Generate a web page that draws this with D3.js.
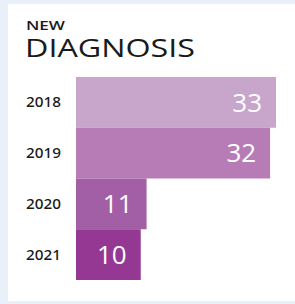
<!DOCTYPE html>
<html>
<head>
<meta charset="utf-8">
<script src="https://cdn.jsdelivr.net/npm/d3@7"></script>
<style>
  html, body { margin: 0; padding: 0; background: #e9f0f9; }
  svg { display: block; }
</style>
</head>
<body>
<script>
const years = ["2018", "2019", "2020", "2021"];
const values = [33, 32, 11, 10];
const colors = ["#c8a5cb", "#b77cb5", "#a35fa5", "#943894"];

const width = 295, height = 304;

const svg = d3.select("body").append("svg")
    .attr("width", width)
    .attr("height", height);

// white card
svg.append("rect")
    .attr("x", 8).attr("y", 4)
    .attr("width", width - 8).attr("height", 297)
    .attr("fill", "#ffffff");

svg.append("text")
    .attr("x", 26).attr("y", 30)
    .attr("textLength", 39)
    .attr("lengthAdjust", "spacingAndGlyphs")
    .style("font", "600 12.5px 'Open Sans', sans-serif")
    .attr("fill", "#1a1a1a")
    .text("NEW");

svg.append("text")
    .attr("x", 25).attr("y", 57)
    .attr("textLength", 170)
    .attr("lengthAdjust", "spacingAndGlyphs")
    .style("font", "400 25px 'Open Sans', sans-serif")
    .attr("fill", "#1a1a1a")
    .text("DIAGNOSIS");

const data = years.map((y, i) => ({year: y, value: values[i], color: colors[i]}));

// bars start a little left of the value zero, as in the original graphic
const x = d3.scaleLinear().domain([-1, 33]).range([76, 276]);
const y = d3.scaleBand().domain(years).range([77, 280]).padding(0);

svg.append("g").selectAll("rect")
    .data(data)
    .join("rect")
    .attr("x", x.range()[0])
    .attr("y", d => y(d.year))
    .attr("width", d => x(d.value) - x.range()[0])
    .attr("height", y.bandwidth())
    .attr("fill", d => d.color);

svg.append("g").selectAll("text")
    .data(data)
    .join("text")
    .attr("x", 26)
    .attr("y", d => y(d.year) + y.bandwidth() / 2)
    .attr("dy", "0.36em")
    .attr("textLength", 35)
    .attr("lengthAdjust", "spacingAndGlyphs")
    .style("font", "500 14px 'Noto Sans', sans-serif")
    .attr("fill", "#1a1a1a")
    .text(d => d.year);

svg.append("g").selectAll("text")
    .data(data)
    .join("text")
    .attr("x", d => x(d.value) - 14)
    .attr("y", d => y(d.year) + y.bandwidth() / 2)
    .attr("dy", "0.36em")
    .attr("text-anchor", "end")
    .style("font", "400 26px 'Open Sans', sans-serif")
    .attr("fill", "#ffffff")
    .text(d => d.value);
</script>
</body>
</html>
